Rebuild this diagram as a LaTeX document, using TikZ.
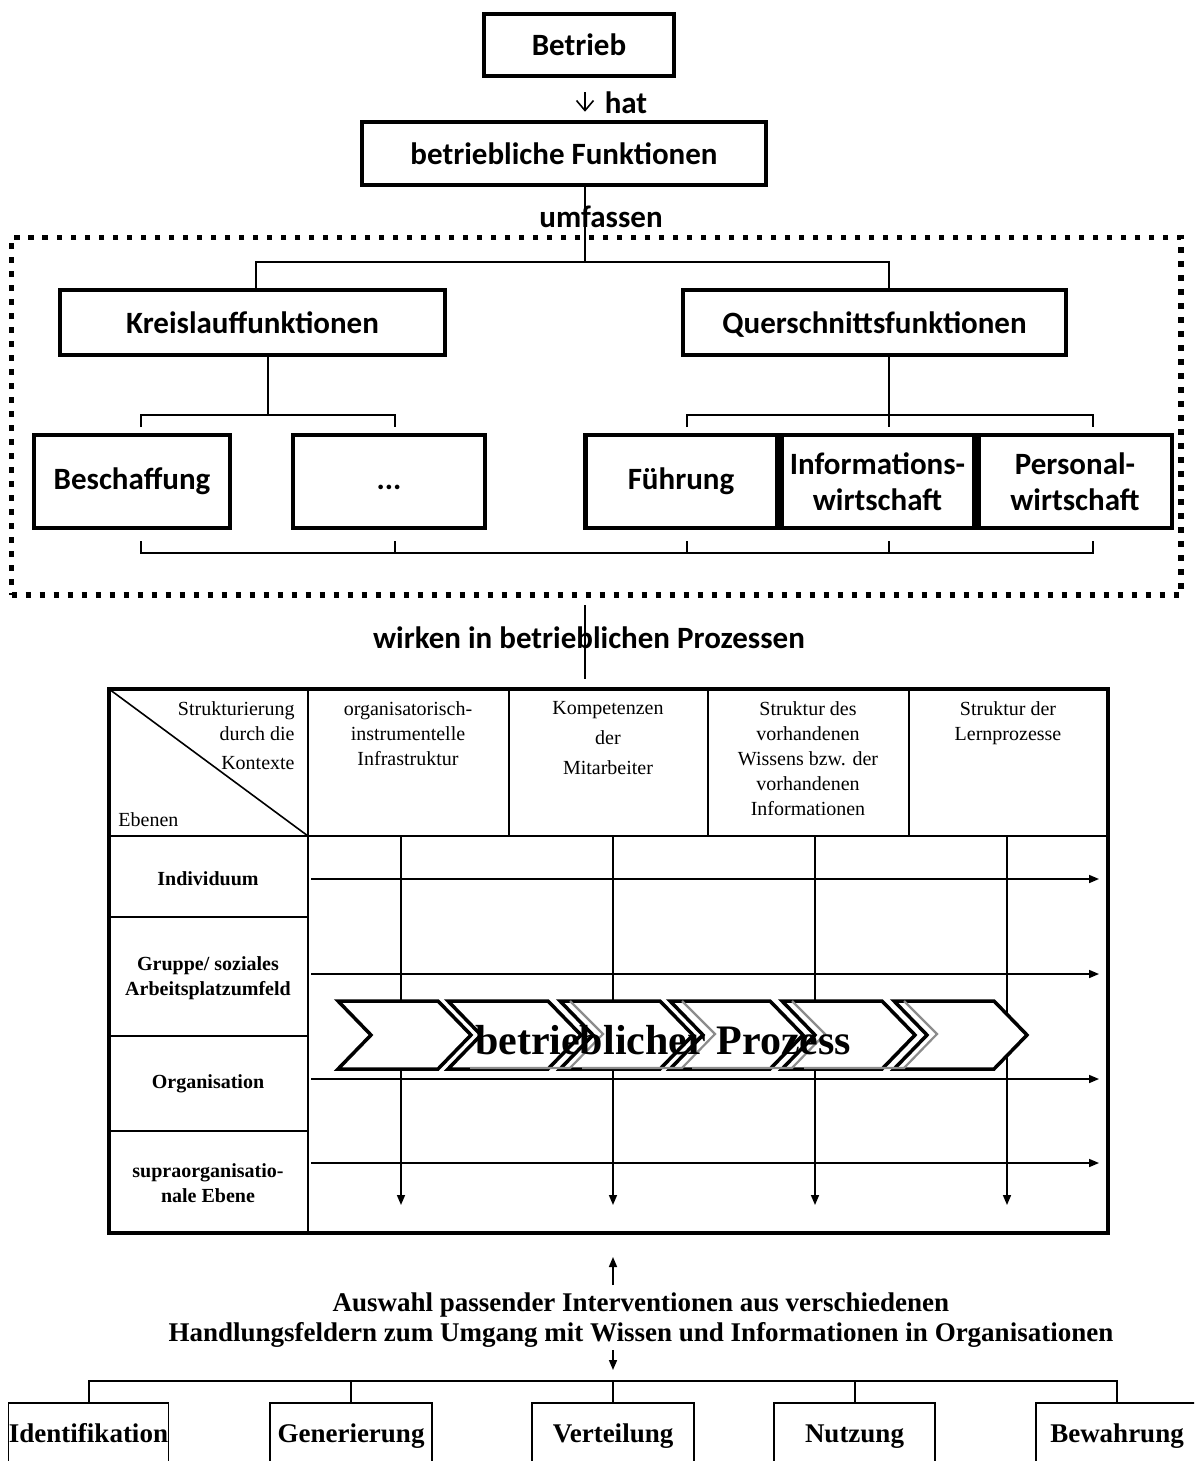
\documentclass[tikz,border=0pt]{standalone}
\usepackage{fontspec}
\setmainfont{Liberation Serif}
\newfontfamily\calfont{Carlito}
\usetikzlibrary{arrows.meta}

\begin{document}
\begin{tikzpicture}[x=0.5pt,y=-0.5pt,
  topbox/.style={draw, line width=2.25pt, inner sep=0pt, align=center,
    font=\calfont\bfseries\fontsize{15.5}{18}\selectfont},
  toptext/.style={inner sep=0pt, font=\calfont\bfseries\fontsize{15.5}{18}\selectfont},
  conn/.style={line width=1pt},
  dotframe/.style={draw, line width=2.75pt, dash pattern=on 2.75pt off 4.25pt},
  tabframe/.style={draw, line width=2pt},
  tabline/.style={line width=1pt},
  flow/.style={line width=0.8pt, -{Triangle[length=5pt,width=4pt]}},
  hdr/.style={inner sep=0pt, font=\fontsize{10}{12.5}\selectfont},
  rowlab/.style={inner sep=0pt, align=center, font=\bfseries\fontsize{10}{12.5}\selectfont},
  chev/.style={draw, fill=white, line width=1.75pt, line join=miter},
  chevshade/.style={draw=black!45, line width=1.1pt, line join=miter},
  bbox/.style={draw, line width=0.75pt, inner sep=0pt, minimum height=33pt,
    text height=9.5pt, text depth=3pt,
    font=\bfseries\fontsize{13.5}{15}\selectfont},
  bline/.style={line width=1pt}
]
\useasboundingbox (0,0) rectangle (1194,1461);
\clip (0,0) rectangle (1194,1461);

% ---------- upper part: functions of the enterprise ----------
\node[topbox, minimum width=95pt, minimum height=31pt] (betrieb) at (579,45) {Betrieb};
\node[topbox, minimum width=202pt, minimum height=31.5pt] (fun) at (564,153.5) {betriebliche Funktionen};
\coordinate (ha) at (585,100);
\draw[line width=0.8pt, -{Straight Barb[length=5pt,width=8.5pt]}, shorten <=7pt, shorten >=4pt]
  (betrieb.south -| ha) -- (fun.north -| ha);
\node[toptext] (hat) at (626,103) {hat};

\node[dotframe, minimum width=584.75pt, minimum height=178.75pt] (dotbox) at (596.25,416.25) {};
\coordinate (j0) at (585,262);
\coordinate (jk) at (256,262);
\coordinate (jq) at (889,262);
\draw[conn] (fun.south -| j0) -- (j0);
\node[toptext] (umf) at (601,217) {umfassen};

\node[topbox, minimum width=192.5pt, minimum height=32.5pt, text depth=0pt] (kreis) at (252.5,322.5) {Kreislauffunktionen};
\node[topbox, minimum width=191.5pt, minimum height=32.5pt, text depth=0pt] (quer) at (874.5,322.5) {Querschnittsfunktionen};
\draw[conn] (kreis.north -| jk) -- (jk) -- (jq) -- (quer.north -| jq);

\node[topbox, minimum width=98pt, minimum height=46.5pt] (besch) at (132,481.5) {Beschaffung};
\node[topbox, minimum width=96pt, minimum height=46.5pt] (more) at (389,481.5) {\vphantom{Beschaffung}...};
\node[topbox, minimum width=95.75pt, minimum height=46.5pt] (fuehr) at (681,481.5) {Führung};
\node[topbox, minimum width=96.25pt, minimum height=46.5pt] (info) at (877.5,481.5) {Informations-\\wirtschaft};
\node[topbox, minimum width=96.75pt, minimum height=46.5pt] (pers) at (1075,481.5) {Personal-\\wirtschaft};

% brackets below the two function groups
\coordinate (k1) at (268,415);
\coordinate (q1) at (889,415);
\draw[conn] (kreis.south -| k1) -- (k1);
\draw[conn] (141,427) -- (141,415) -- (395,415) -- (395,427);
\draw[conn] (quer.south -| q1) -- (q1);
\draw[conn] (687,427) -- (687,415) -- (1093,415) -- (1093,427);
\draw[conn] (889,415) -- (889,427);
\draw[conn] (141,541) -- (141,553) -- (1093,553) -- (1093,541);
\foreach \xx in {395,687,889} \draw[conn] (\xx,541) -- (\xx,553);

% ---------- matrix of levels and contexts ----------
\node[tabframe, minimum width=499.5pt, minimum height=272pt] (tab) at (608.5,961) {};
\coordinate (jw) at (585,640);
\draw[conn, shorten <=3.75pt, shorten >=4pt] (dotbox.south -| jw) -- (tab.north -| jw);
\node[toptext] (wirken) at (589,638) {wirken in betrieblichen Prozessen};

\draw[tabline] (109,836) -- (1108,836);
\draw[tabline] (308,689) -- (308,1233);
\foreach \xx in {509,708,909} \draw[tabline] (\xx,689) -- (\xx,836);
\foreach \yy in {917,1036,1131} \draw[tabline] (109,\yy) -- (308,\yy);
\draw[line width=0.8pt] (109,689) -- (308,836);

\node[hdr, anchor=north east, align=right] (hstr) at (295,701) {Strukturierung\\durch die\\[2pt]Kontexte};
\node[hdr, anchor=base west] (heb) at (118,826) {Ebenen};
\node[hdr, anchor=north, align=center] (h1) at (408,701) {organisatorisch-\\instrumentelle\\Infrastruktur};
\node[hdr, anchor=north, align=center, font=\fontsize{10}{15}\selectfont] (h2) at (608,701) {Kompetenzen\\der\\Mitarbeiter};
\node[hdr, anchor=north, align=center] (h3) at (808,701) {Struktur des\\vorhandenen\\Wissens bzw. der\\vorhandenen\\Informationen};
\node[hdr, anchor=north, align=center] (h4) at (1008,701) {Struktur der\\Lernprozesse};

\node[rowlab] (r1) at (208,879) {Individuum};
\node[rowlab] (r2) at (208,978) {Gruppe/ soziales\\Arbeitsplatzumfeld};
\node[rowlab] (r3) at (208,1084) {Organisation};
\node[rowlab] (r4) at (208,1183) {supraorganisatio-\\nale Ebene};

\foreach \xx in {401,613,815,1007} \draw[flow] (\xx,836) -- (\xx,1205);
\foreach \yy in {879,974,1079,1163} \draw[flow] (311,\yy) -- (1099,\yy);

% process chevrons
\foreach \L in {338,448,560,670,782,894}
  \draw[chev] (\L,1001) -- ++(100,0) -- ++(33,34) -- ++(-33,34) -- ++(-100,0) -- ++(33,-34) -- cycle;
\foreach \L in {448,560,670,782}
  \draw[chevshade] (\L+22,1068) -- ++(100,0) -- ++(33,-34) -- ++(-33,-33);
\node[inner sep=0pt, font=\bfseries\fontsize{21}{24}\selectfont] (proc) at (663,1040) {betrieblicher Prozess};

% ---------- fields of action ----------
\node[inner sep=0pt, align=center, font=\bfseries\fontsize{13.5}{15}\selectfont] (ausw) at (641,1320)
  {Auswahl passender Interventionen aus verschiedenen\\Handlungsfeldern zum Umgang mit Wissen und Informationen in Organisationen};
\draw[flow] (613,1285) -- (613,1257);
\draw[flow] (613,1350) -- (613,1370);

\node[bbox, minimum width=80pt] (b1) at (88.5,1436) {Identifikation};
\node[bbox, minimum width=81pt] (b2) at (351,1436) {Generierung};
\node[bbox, minimum width=81pt] (b3) at (613,1436) {Verteilung};
\node[bbox, minimum width=80.5pt] (b4) at (854.5,1436) {Nutzung};
\node[bbox, minimum width=81pt] (b5) at (1117,1436) {Bewahrung};
\coordinate (hl) at (0,1381);
\draw[bline] (b1.north) -- (b1.north |- hl) -- (b5.north |- hl) -- (b5.north);
\foreach \b in {b2,b3,b4} \draw[bline] (\b.north) -- (\b.north |- hl);
\end{tikzpicture}
\end{document}
